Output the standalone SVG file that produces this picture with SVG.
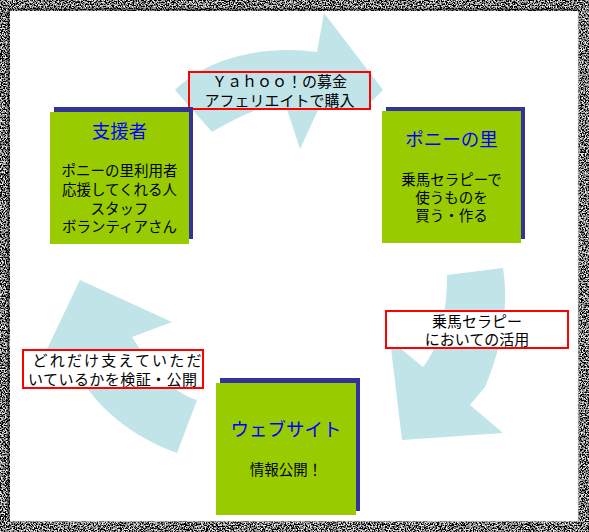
<svg xmlns="http://www.w3.org/2000/svg" width="589" height="532" viewBox="0 0 589 532">
  <defs>
    <filter id="grain" filterUnits="userSpaceOnUse" x="0" y="0" width="589" height="532">
      <feTurbulence type="fractalNoise" baseFrequency="0.75" numOctaves="2" seed="7" result="t"/>
      <feColorMatrix in="t" type="matrix" values="3.6 0 0 0 -1.6  3.6 0 0 0 -1.6  3.6 0 0 0 -1.6  0 0 0 0 1" result="g"/>
      <feComposite in="g" in2="SourceGraphic" operator="in"/>
    </filter>
    <style>
      .arrow { fill: #C1E4E9; stroke: none; }
      .shadow { fill: #333399; }
      .box { fill: #99CC00; }
      .title { font-family: "Noto Sans CJK JP", "Noto Sans", sans-serif; font-size: 18.5px; fill: #0000FF; text-anchor: middle; }
      .body { font-family: "Noto Sans CJK JP", "Noto Sans", sans-serif; font-size: 14.5px; fill: #000000; text-anchor: middle; }
      .lbl { stroke: #FF0000; stroke-width: 2; }
      .ltext { font-family: "Noto Sans CJK JP", "Noto Sans", sans-serif; font-size: 15px; fill: #000000; text-anchor: middle; }
    </style>
  </defs>

  <rect x="0" y="0" width="589" height="532" fill="#FFFFFF"/>

  <g id="connectors">
    <g id="arrow-top">
      <path class="arrow" d="M175,90 C210,55 270,45 317,52 L324,13 L383,90 L372,101 L318,110 L300,149 L284,100 Q245,112 212,132 Z"/>
      <rect class="lbl" x="189" y="72" width="181" height="37" fill="#C1E4E9"/>
      <text class="ltext" x="279.5" y="87" font-size="14.5">Ｙａｈｏｏ！の募金</text>
      <text class="ltext" x="279.5" y="106" font-size="14.5">アフェリエイトで購入</text>
    </g>
    <g id="arrow-right">
      <path class="arrow" d="M447,275 L503,268 C508,300 505,340 485,387 L470,405 L503,433 L402,440 L390,340 L423,367 C437,350 447,320 447,275 Z"/>
      <rect class="lbl" x="386" y="311" width="182" height="37" fill="#FFFFFF"/>
      <text class="ltext" x="477" y="327" font-size="15.5">乗馬セラピー</text>
      <text class="ltext" x="477" y="345" font-size="15.5">においての活用</text>
    </g>
    <g id="arrow-left">
      <path class="arrow" d="M80,280 L172,322 L132,337 C150,365 170,392 197,400 L177,453 C140,440 105,415 85,385 L75,372 L37,370 Z"/>
      <rect class="lbl" x="23" y="350" width="180" height="38" fill="#FFFFFF"/>
      <text class="ltext" x="117" y="366" textLength="169" lengthAdjust="spacing">どれだけ支えていただ</text>
      <text class="ltext" x="112.5" y="385" textLength="169" lengthAdjust="spacing">いているかを検証・公開</text>
    </g>
  </g>

  <g id="node-supporters">
    <rect class="shadow" x="54" y="107" width="139" height="132"/>
    <rect class="box" x="50" y="112" width="139" height="132"/>
    <text class="title" x="119.5" y="138">支援者</text>
    <text class="body" x="119.5" y="176">ポニーの里利用者</text>
    <text class="body" x="119.5" y="195">応援してくれる人</text>
    <text class="body" x="119.5" y="214">スタッフ</text>
    <text class="body" x="119.5" y="232">ボランティアさん</text>
  </g>

  <g id="node-pony">
    <rect class="shadow" x="386" y="107" width="139" height="132"/>
    <rect class="box" x="382" y="111" width="139" height="132"/>
    <text class="title" x="451.5" y="146">ポニーの里</text>
    <text class="body" x="451.5" y="185">乗馬セラピーで</text>
    <text class="body" x="451.5" y="203">使うものを</text>
    <text class="body" x="451.5" y="221">買う・作る</text>
  </g>

  <g id="node-website">
    <rect class="shadow" x="220" y="378" width="140" height="133"/>
    <rect class="box" x="216" y="383" width="140" height="132"/>
    <text class="title" x="286" y="436">ウェブサイト</text>
    <text class="body" x="286" y="475">情報公開！</text>
  </g>

  <g id="frame">
    <path d="M0,0H589V532H0Z M10,11V521H578V11Z" fill="#FFFFFF" fill-rule="evenodd" filter="url(#grain)"/>
    <path d="M8.5,521 V9.5 H578" fill="none" stroke="#000000" stroke-opacity="0.5" stroke-width="2"/>
    <path d="M10,521.5 H578.5 V11" fill="none" stroke="#BBBBBB" stroke-opacity="0.6" stroke-width="1.5"/>
  </g>
</svg>
